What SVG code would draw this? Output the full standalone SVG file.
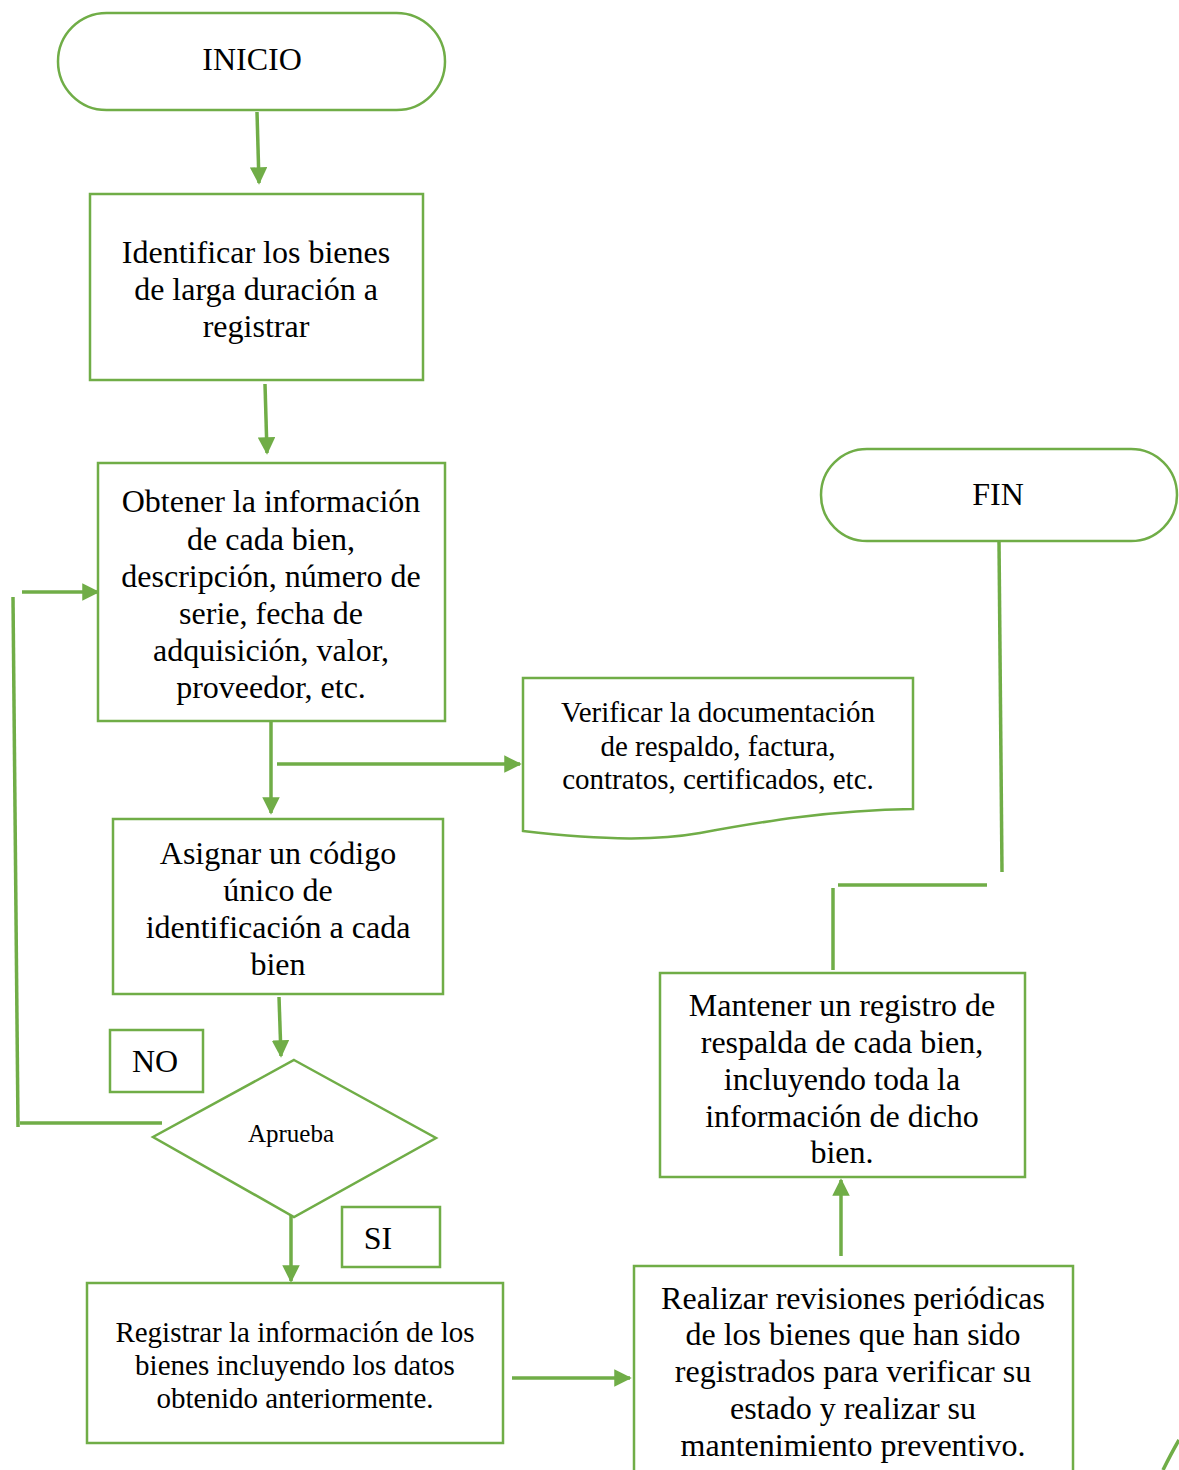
<svg xmlns="http://www.w3.org/2000/svg" width="1179" height="1470" viewBox="0 0 1179 1470">
<defs>
<style>
.s{fill:#fff;stroke:#70AD47;stroke-width:2.5}
.c{fill:none;stroke:#70AD47;stroke-width:3.5}
.t{font-family:"Liberation Serif","Times New Roman",serif;font-size:32px;fill:#000;text-anchor:middle}
.m{font-size:29px}
.a{font-size:25px}
</style>
<marker id="ah" markerWidth="5" markerHeight="5" refX="4.5" refY="2.5" orient="auto" markerUnits="strokeWidth">
<path d="M0,0 L5,2.5 L0,5 Z" fill="#70AD47"/>
</marker>
</defs>
<rect width="1179" height="1470" fill="#fff"/>
<g id="connectors">
<line class="c" x1="257" y1="112" x2="259" y2="183" marker-end="url(#ah)"/>
<line class="c" x1="265" y1="384" x2="267" y2="453" marker-end="url(#ah)"/>
<line class="c" x1="271" y1="722" x2="271" y2="813" marker-end="url(#ah)"/>
<line class="c" x1="277" y1="764" x2="520" y2="764" marker-end="url(#ah)"/>
<line class="c" x1="279" y1="997" x2="281" y2="1056" marker-end="url(#ah)"/>
<line class="c" x1="162" y1="1123" x2="20" y2="1123"/>
<line class="c" x1="18" y1="1127" x2="13" y2="597"/>
<line class="c" x1="22" y1="592" x2="98" y2="592" marker-end="url(#ah)"/>
<line class="c" x1="291" y1="1197" x2="291" y2="1281" marker-end="url(#ah)"/>
<line class="c" x1="512" y1="1378" x2="630" y2="1378" marker-end="url(#ah)"/>
<line class="c" x1="841" y1="1256" x2="841" y2="1180" marker-end="url(#ah)"/>
<line class="c" x1="833" y1="970" x2="833" y2="888"/>
<line class="c" x1="838" y1="885" x2="987" y2="885"/>
<line class="c" x1="1002" y1="872" x2="999" y2="541"/>
<path class="c" d="M1163,1470 Q1172,1452 1179,1440"/>
</g>
<g id="inicio">
<rect class="s" x="58" y="13" width="387" height="97" rx="48.5"/>
<text class="t" x="252" y="70">INICIO</text>
</g>
<g id="identificar">
<rect class="s" x="90" y="194" width="333" height="186"/>
<text class="t" x="256" y="263">Identificar los bienes</text>
<text class="t" x="256" y="300">de larga duración a</text>
<text class="t" x="256" y="337">registrar</text>
</g>
<g id="obtener">
<rect class="s" x="98" y="463" width="347" height="258"/>
<text class="t" x="271" y="512">Obtener la información</text>
<text class="t" x="271" y="550">de cada bien,</text>
<text class="t" x="271" y="587">descripción, número de</text>
<text class="t" x="271" y="624">serie, fecha de</text>
<text class="t" x="271" y="661">adquisición, valor,</text>
<text class="t" x="271" y="698">proveedor, etc.</text>
</g>
<g id="verificar">
<path class="s" d="M523,678 L913,678 L913,809 C830,810 760,822 700,833 C660,840 610,841 523,831 Z"/>
<text class="t m" x="718" y="722">Verificar la documentación</text>
<text class="t m" x="718" y="756">de respaldo, factura,</text>
<text class="t m" x="718" y="789">contratos, certificados, etc.</text>
</g>
<g id="asignar">
<rect class="s" x="113" y="819" width="330" height="175"/>
<text class="t" x="278" y="864">Asignar un código</text>
<text class="t" x="278" y="901">único de</text>
<text class="t" x="278" y="938">identificación a cada</text>
<text class="t" x="278" y="975">bien</text>
</g>
<g id="no">
<rect class="s" x="110" y="1030" width="93" height="62"/>
<text class="t" x="155" y="1072">NO</text>
</g>
<g id="aprueba">
<path class="s" d="M294,1060 L436,1138 L294,1217 L153,1137 Z"/>
<text class="t a" x="291" y="1142">Aprueba</text>
</g>
<g id="si">
<rect class="s" x="342" y="1207" width="98" height="60"/>
<text class="t" x="378" y="1249">SI</text>
</g>
<g id="registrar">
<rect class="s" x="87" y="1283" width="416" height="160"/>
<text class="t m" x="295" y="1342">Registrar la información de los</text>
<text class="t m" x="295" y="1375">bienes incluyendo los datos</text>
<text class="t m" x="295" y="1408">obtenido anteriormente.</text>
</g>
<g id="realizar">
<rect class="s" x="634" y="1266" width="439" height="220"/>
<text class="t" x="853" y="1309">Realizar revisiones periódicas</text>
<text class="t" x="853" y="1345">de los bienes que han sido</text>
<text class="t" x="853" y="1382">registrados para verificar su</text>
<text class="t" x="853" y="1419">estado y realizar su</text>
<text class="t" x="853" y="1456">mantenimiento preventivo.</text>
</g>
<g id="mantener">
<rect class="s" x="660" y="973" width="365" height="204"/>
<text class="t" x="842" y="1016">Mantener un registro de</text>
<text class="t" x="842" y="1053">respalda de cada bien,</text>
<text class="t" x="842" y="1090">incluyendo toda la</text>
<text class="t" x="842" y="1127">información de dicho</text>
<text class="t" x="842" y="1163">bien.</text>
</g>
<g id="fin">
<rect class="s" x="821" y="449" width="356" height="92" rx="46"/>
<text class="t" x="998" y="505">FIN</text>
</g>
</svg>
